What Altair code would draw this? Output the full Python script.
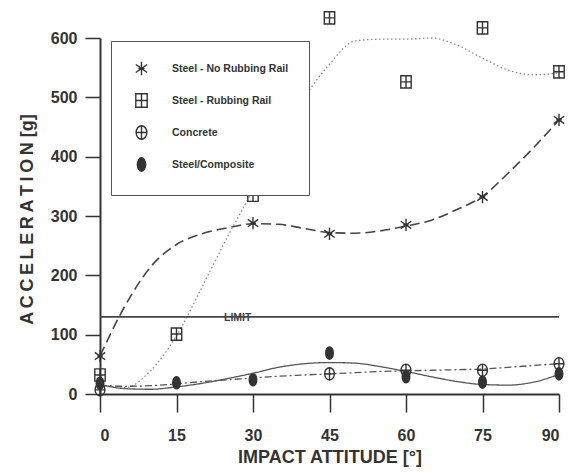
import altair as alt
import pandas as pd

# ---- measured data ----
angles = [0, 15, 30, 45, 60, 75, 90]
steel_no_rail = [64, None, 288, 270, 285, 332, 462]
steel_rail = [32, 101, 335, 634, 526, 617, 543]
concrete = [7, None, None, 34, 40, 40, 51]
composite = [18, 19, 24, 69, 29, 20, 34]

# fitted curves (every 5 degrees)
curve_angles = [0, 5, 10, 15, 20, 25, 30, 35, 40, 45, 50, 55, 60, 65, 70, 75, 80, 85, 90]
fit_no_rail = [64, 150, 215, 252, 270, 280, 287, 286, 279, 272, 271, 275, 283, 293, 311, 333, 372, 415, 462]
fit_rail = [15, 11, 40, 98, 180, 265, 345, 440, 500, 556, 595, 598, 598, 600, 588, 566, 546, 538, 541]
fit_concrete = [15, 13, 14, 17, 21, 24, 27, 30, 32, 34, 36, 38, 39, 40, 41, 42, 45, 48, 51]
fit_composite = [16, 9, 8, 12, 18, 26, 35, 45, 51, 53, 52, 46, 38, 29, 21, 16, 15, 20, 33]

limit_value = 130
limit_label = "LIMIT"
limit_label_angle = 27

series_names = ["Steel - No Rubbing Rail", "Steel - Rubbing Rail", "Concrete", "Steel/Composite"]

x_ticks = [0, 7.5, 15, 22.5, 30, 37.5, 45, 52.5, 60, 67.5, 75, 82.5, 90]
y_ticks = [0, 50, 100, 150, 200, 250, 300, 350, 400, 450, 500, 550, 600]

# ---- tables ----
rows = []
for name, vals in zip(series_names, [steel_no_rail, steel_rail, concrete, composite]):
    for a, v in zip(angles, vals):
        if v is not None:
            rows.append({"series": name, "angle": a, "value": v})
points_df = pd.DataFrame(rows)

crow = []
for name, vals in zip(series_names, [fit_no_rail, fit_rail, fit_concrete, fit_composite]):
    for a, v in zip(curve_angles, vals):
        crow.append({"series": name, "angle": a, "value": v})
curves_df = pd.DataFrame(crow)

INK = "#333333"
FONT = "Liberation Sans, Arial, sans-serif"

x_scale = alt.Scale(domain=[0, 90], nice=False, zero=False)
y_scale = alt.Scale(domain=[0, 600], nice=False)

x_axis = alt.Axis(
    values=x_ticks, format="d",
    labelExpr="datum.value % 15 === 0 ? datum.label : ''",
    tickSize={"condition": {"test": "datum.value % 15 === 0", "value": 18}, "value": 10},
    title="IMPACT ATTITUDE [°]", titleFont=FONT, titleFontSize=18, titleFontWeight="bold",
    titleColor=INK, titleY=63, titleBaseline="middle",
    labelFont=FONT, labelFontSize=16, labelFontWeight="bold", labelColor=INK,
    labelPadding=15, grid=False, domainColor=INK, domainWidth=2, tickColor=INK, tickWidth=1.5,
)
y_axis = alt.Axis(
    values=y_ticks, format="d",
    labelExpr="datum.value % 100 === 0 ? datum.label : ''",
    tickSize={"condition": {"test": "datum.value % 100 === 0", "value": 15}, "value": 8},
    title="A\u2009C\u2009C\u2009E\u2009L\u2009E\u2009R\u2009A\u2009T\u2009I\u2009O\u2009N [g]",
    titleFont=FONT, titleFontSize=18, titleFontWeight="bold", titleColor=INK,
    titleX=-73, titleY=181, titleBaseline="middle",
    labelFont=FONT, labelFontSize=16, labelFontWeight="bold", labelColor=INK,
    labelPadding=8, grid=False, domainColor=INK, domainWidth=2, tickColor=INK, tickWidth=1.5,
)

base_curve = alt.Chart(curves_df)


def curve(name, dash, color, width):
    return base_curve.transform_filter(alt.datum.series == name).mark_line(
        interpolate="monotone", strokeDash=dash, color=color, strokeWidth=width
    ).encode(
        x=alt.X("angle:Q", scale=x_scale, axis=x_axis),
        y=alt.Y("value:Q", scale=y_scale, axis=y_axis),
    )


l1 = curve(series_names[0], [10, 5], "#444444", 1.6)
l2 = curve(series_names[1], [1.5, 2.5], "#8a8a8a", 1.3)
l3 = curve(series_names[2], [7, 3, 2, 3], "#555555", 1.3)
l4 = curve(series_names[3], [1, 0], "#555555", 1.3)

limit_rule = alt.Chart(pd.DataFrame({"y": [limit_value]})).mark_rule(
    color="#444444", strokeWidth=1.6
).encode(
    y=alt.Y("y:Q", scale=y_scale),
    x=alt.datum(min(angles)),
    x2=alt.datum(max(angles)),
)
limit_text = alt.Chart(pd.DataFrame({"y": [limit_value], "t": [limit_label]})).mark_text(
    font=FONT, fontSize=10.5, fontWeight="bold", color="#444444", baseline="middle", dy=1
).encode(
    y=alt.Y("y:Q", scale=y_scale),
    x=alt.datum(limit_label_angle),
    text="t:N",
)

shape_paths = [
    "M0,-1V1M-0.85,-0.6L0.85,0.6M-0.85,0.6L0.85,-0.6M-0.45,0H0.45",
    "M-0.85,-1H0.85V1H-0.85ZM0,-1V1M-0.85,0H0.85",
    "M-0.8,0A0.8,1 0 1,1 0.8,0A0.8,1 0 1,1 -0.8,0ZM0,-1V1M-0.8,0H0.8",
    "M-0.62,0A0.62,1 0 1,1 0.62,0A0.62,1 0 1,1 -0.62,0Z",
]

legend = alt.Legend(
    orient="none", legendX=11, legendY=3, title=None, padding=20,
    strokeColor="#555555", fillColor="white", rowPadding=11, labelOffset=23,
    labelFont=FONT, labelFontSize=10.5, labelFontWeight="bold", labelColor=INK,
    symbolSize=180, symbolStrokeWidth=1.4, symbolOffset=3, labelLimit=300,
)

pts = alt.Chart(points_df).mark_point(filled=False, size=150, strokeWidth=1.4, opacity=1).encode(
    x=alt.X("angle:Q", scale=x_scale),
    y=alt.Y("value:Q", scale=y_scale),
    shape=alt.Shape("series:N", scale=alt.Scale(domain=series_names, range=shape_paths), legend=legend),
    fill=alt.Fill("series:N", scale=alt.Scale(domain=series_names,
                                             range=["transparent", "transparent", "transparent", "#333333"]),
                  legend=legend),
    stroke=alt.Stroke("series:N", scale=alt.Scale(domain=series_names,
                                                 range=["#333333", "#333333", "#333333", "#333333"]),
                      legend=legend),
)

chart = alt.layer(l1, l2, l3, l4, limit_rule, limit_text, pts).properties(
    width=459, height=356,
    autosize=alt.AutoSizeParams(type="none"),
    padding={"left": 100, "top": 38, "right": 11, "bottom": 79},
    background="white",
).configure_view(stroke=None)

chart.save("out.html", embed_options={"renderer": "svg", "actions": False})
